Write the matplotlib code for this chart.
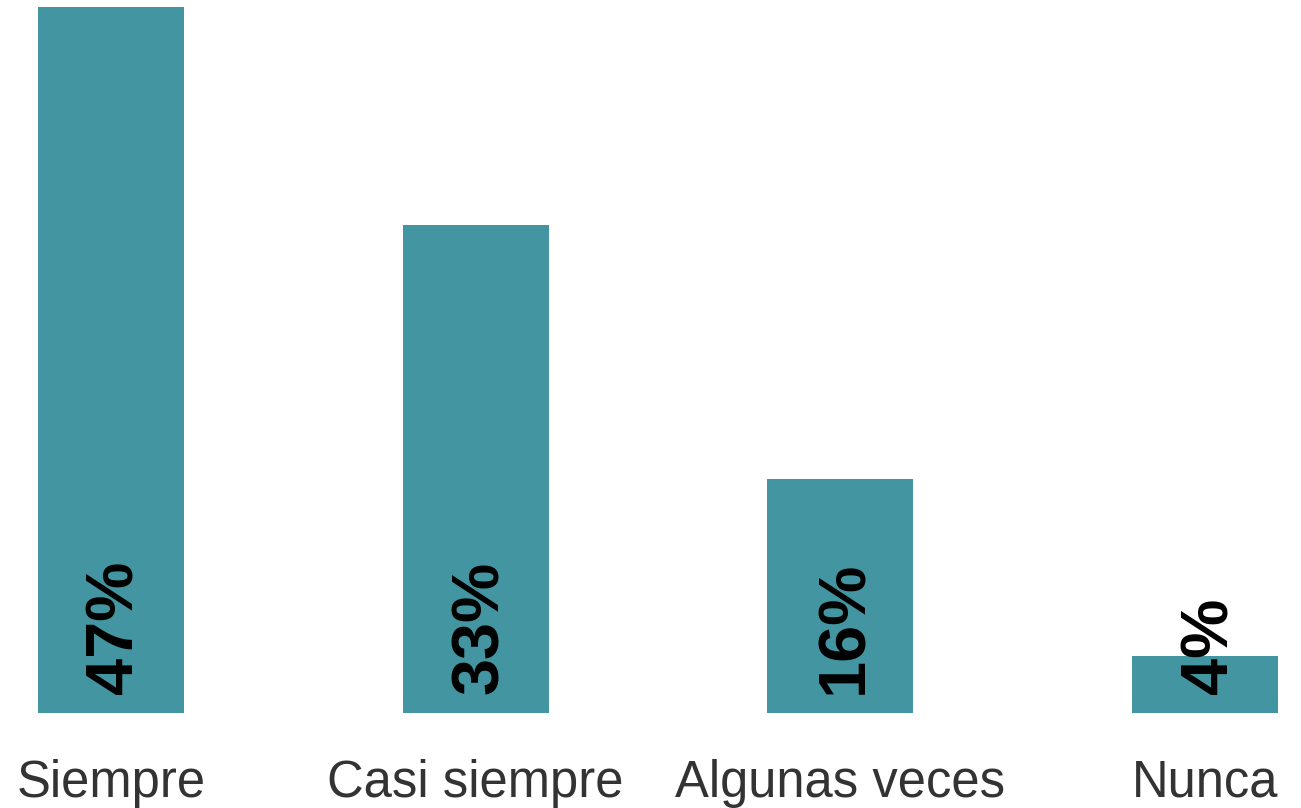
import matplotlib
matplotlib.use("Agg")
import matplotlib.pyplot as plt

categories = ["Siempre", "Casi siempre", "Algunas veces", "Nunca"]
values = [47.0, 32.5, 15.6, 3.8]
value_labels = ["47%", "33%", "16%", "4%"]

bar_color = "#4495A2"

fig = plt.figure(figsize=(13.01, 8.08), dpi=100)
ax = fig.add_axes([38 / 1301, 95 / 808, (1278 - 38) / 1301, (713 - 7) / 808])

x = list(range(len(categories)))
bars = ax.bar(x, values, width=0.4, color=bar_color)
ax.set_xlim(-0.2, len(categories) - 1 + 0.2)
ax.set_ylim(0, max(values))

for xi, v, lab in zip(x, values, value_labels):
    ax.annotate(lab, xy=(xi, 0), xytext=(5, 19), textcoords="offset pixels",
                rotation=90, ha="center", va="bottom",
                fontsize=48, fontweight="bold", family="Liberation Sans",
                color="black")

ax.set_xticks(x)
ax.set_xticklabels(categories, fontsize=36.5, color="#333333", family="Liberation Sans")
ax.tick_params(axis="x", length=0, pad=33)
ax.set_yticks([])
for s in ax.spines.values():
    s.set_visible(False)

fig.savefig("out.png", dpi=100)
